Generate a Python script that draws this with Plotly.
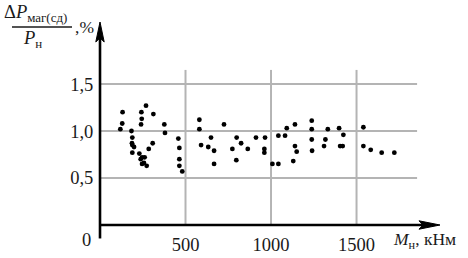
import plotly.graph_objects as go

# Data: M_н (kNm) and ΔP_маг(сд)/P_н (%)
m_nom = [132, 130, 119, 269, 242, 244, 240, 312, 184, 189, 187, 189, 199, 189,
         230, 246, 261, 238, 246, 273, 257, 308, 285, 376, 380, 458, 464, 464,
         464, 481, 581, 581, 725, 649, 591, 633, 667, 667, 799, 825, 774, 864,
         797, 912, 965, 961, 961, 1043, 1082, 1092, 1140, 1008, 1043, 1130,
         1140, 1150, 1238, 1238, 1238, 1240, 1332, 1318, 1310, 1398, 1423,
         1404, 1419, 1540, 1540, 1583, 1647, 1721]
dp_rel = [1.20, 1.08, 1.02, 1.27, 1.20, 1.13, 1.07, 1.18, 1.00, 0.93, 0.87, 0.85,
          0.83, 0.77, 0.76, 0.72, 0.72, 0.70, 0.65, 0.63, 0.66, 0.87, 0.81, 1.07,
          0.98, 0.92, 0.82, 0.70, 0.63, 0.57, 1.12, 1.02, 1.07, 0.93, 0.85, 0.83,
          0.79, 0.65, 0.93, 0.87, 0.81, 0.81, 0.69, 0.93, 0.93, 0.81, 0.77, 0.95,
          0.95, 1.03, 1.07, 0.65, 0.65, 0.68, 0.84, 0.78, 1.11, 1.02, 0.91, 0.79,
          1.02, 0.91, 0.84, 1.03, 0.96, 0.84, 0.84, 1.04, 0.84, 0.80, 0.77, 0.77]

x_ticks = [500, 1000, 1500]
x_tick_text = ["500", "1000", "1500"]
y_ticks = [0.5, 1.0, 1.5]
y_tick_text = ["0,5", "1,0", "1,5"]

W, H = 468, 258
L, R, T, B = 100, 28, 22, 32.5
PW, PH = W - L - R, H - T - B
X_MAX, Y_MAX = 1988, 2.16


def px(xp):
    return (xp - L) / PW


def py(yp):
    return (H - B - yp) / PH


FONT = "Liberation Serif"
TXT = "#1a1a1a"
GRID = "#b4b4b4"
TICK_SIZE = 18.5

fig = go.Figure()
fig.add_trace(go.Scatter(
    x=m_nom, y=dp_rel, mode="markers",
    marker=dict(color="black", size=4.8),
    showlegend=False, hoverinfo="skip", cliponaxis=False,
))

shapes = []
for v in y_ticks:
    shapes.append(dict(type="line", xref="x", yref="y", x0=0, x1=1854, y0=v, y1=v,
                       line=dict(color=GRID, width=2), layer="below"))
for v in x_ticks:
    shapes.append(dict(type="line", xref="x", yref="y", x0=v, x1=v, y0=0, y1=1.65,
                       line=dict(color=GRID, width=2), layer="below"))

# axes drawn as lines with arrow heads (paper coordinates so nothing is clipped)
ax_y = H - B
shapes.append(dict(type="line", xref="paper", yref="paper",
                   x0=px(100), x1=px(425), y0=py(ax_y), y1=py(ax_y),
                   line=dict(color="black", width=2.6)))
shapes.append(dict(type="path", xref="paper", yref="paper",
                   path=(f"M {px(440)} {py(ax_y)} L {px(419)} {py(ax_y - 4.2)} "
                         f"L {px(423)} {py(ax_y)} L {px(419)} {py(ax_y + 4.2)} Z"),
                   fillcolor="black", line=dict(color="black", width=1)))
shapes.append(dict(type="line", xref="paper", yref="paper",
                   x0=px(100), x1=px(100), y0=py(239), y1=py(38),
                   line=dict(color="black", width=2.6)))
shapes.append(dict(type="path", xref="paper", yref="paper",
                   path=(f"M {px(100)} {py(22)} L {px(95.8)} {py(42)} "
                         f"L {px(100)} {py(38)} L {px(104.2)} {py(42)} Z"),
                   fillcolor="black", line=dict(color="black", width=1)))

# fraction bar of the y title
shapes.append(dict(type="line", xref="paper", yref="paper",
                   x0=px(12), x1=px(72), y0=py(27), y1=py(27),
                   line=dict(color=TXT, width=1.3)))

annotations = [
    # origin label
    dict(x=px(86), y=py(241), xref="paper", yref="paper", text="0", showarrow=False,
         font=dict(family=FONT, size=TICK_SIZE, color=TXT),
         xanchor="center", yanchor="middle"),
    # y title
    dict(x=px(2), y=py(13), xref="paper", yref="paper",
         text="Δ<i>P</i><sub>маг(сд)</sub>", showarrow=False,
         font=dict(family=FONT, size=18.5, color=TXT), xanchor="left", yanchor="middle"),
    dict(x=px(21), y=py(40), xref="paper", yref="paper",
         text="<i>P</i><sub>н</sub>", showarrow=False,
         font=dict(family=FONT, size=18.5, color=TXT), xanchor="left", yanchor="middle"),
    dict(x=px(73), y=py(27), xref="paper", yref="paper",
         text=",%", showarrow=False,
         font=dict(family=FONT, size=17.5, color=TXT), xanchor="left", yanchor="middle"),
    # x title
    dict(x=px(391), y=py(241), xref="paper", yref="paper",
         text="<i>M</i><sub>н</sub>, кНм", showarrow=False,
         font=dict(family=FONT, size=17.5, color=TXT), xanchor="left", yanchor="middle"),
]

fig.update_layout(
    width=W, height=H,
    margin=dict(l=L, r=R, t=T, b=B, pad=0, autoexpand=False),
    paper_bgcolor="white", plot_bgcolor="white",
    shapes=shapes, annotations=annotations,
    xaxis=dict(range=[0, X_MAX], showgrid=False, zeroline=False, showline=False,
               tickmode="array", tickvals=x_ticks, ticktext=x_tick_text,
               ticks="outside", ticklen=3, tickcolor="rgba(0,0,0,0)",
               tickfont=dict(family=FONT, size=TICK_SIZE, color=TXT), fixedrange=True),
    yaxis=dict(range=[0, Y_MAX], showgrid=False, zeroline=False, showline=False,
               tickmode="array", tickvals=y_ticks, ticktext=y_tick_text,
               ticks="outside", ticklen=2, tickcolor="rgba(0,0,0,0)",
               tickfont=dict(family=FONT, size=TICK_SIZE, color=TXT), fixedrange=True),
)

fig.write_html(
    "out.html",
    config={"displayModeBar": False, "staticPlot": True},
    post_script="document.body.style.margin='0';document.body.style.overflow='hidden';",
)
